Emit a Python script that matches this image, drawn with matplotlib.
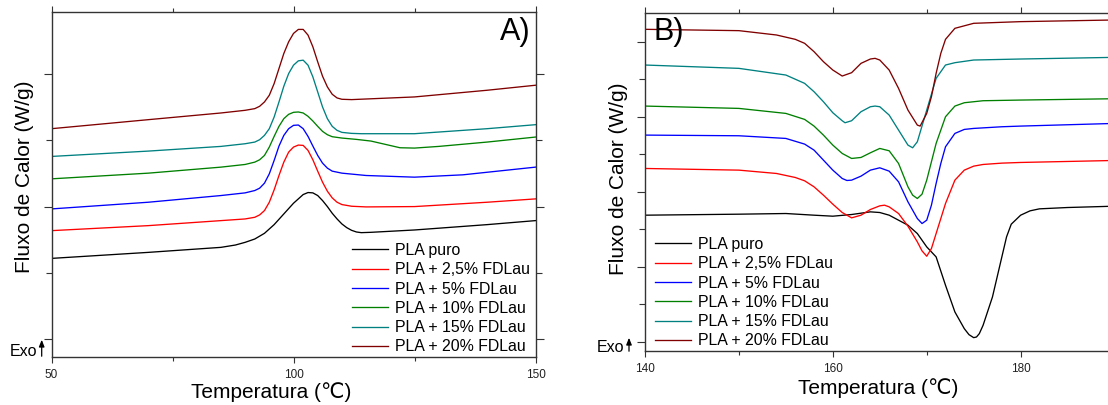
import matplotlib
matplotlib.use("Agg")
import matplotlib.pyplot as plt
from matplotlib.ticker import FixedLocator, NullFormatter

plt.rcParams['font.family'] = ['Liberation Sans', 'DejaVu Sans']

labels = ["PLA puro", "PLA + 2,5% FDLau", "PLA + 5% FDLau",
          "PLA + 10% FDLau", "PLA + 15% FDLau", "PLA + 20% FDLau"]
colors = ["#000000", "#ff0000", "#0000ff", "#008000", "#008080", "#800000"]

# ---------------- Panel A (crystallization region, 50-150 C) ----------------
tA_black = [50, 70, 85, 88, 90, 92, 94, 96, 98, 100, 101, 102, 103, 104, 105, 106, 107,
            108, 109, 110, 111, 112, 113, 114, 116, 125, 140, 150]
yA_black = [2.95, 3.13, 3.28, 3.35, 3.43, 3.53, 3.70, 3.96, 4.28, 4.60, 4.73, 4.86, 4.92,
            4.91, 4.83, 4.68, 4.50, 4.30, 4.13, 3.98, 3.87, 3.79, 3.74, 3.72, 3.73, 3.80,
            3.96, 4.08]

tA_red = [50, 70, 85, 90, 92, 93, 94, 95, 96, 97, 98, 99, 100, 101, 102, 103, 104, 105,
          106, 107, 108, 109, 110, 112, 115, 125, 140, 150]
yA_red = [3.78, 3.93, 4.08, 4.13, 4.18, 4.25, 4.38, 4.63, 5.00, 5.43, 5.83, 6.13, 6.28,
          6.34, 6.33, 6.18, 5.90, 5.56, 5.23, 4.96, 4.76, 4.63, 4.56, 4.51, 4.49, 4.50,
          4.63, 4.73]

tA_blue = [50, 70, 85, 90, 92, 93, 94, 95, 96, 97, 98, 99, 100, 101, 102, 103, 104, 105,
           106, 107, 108, 110, 115, 125, 135, 150]
yA_blue = [4.43, 4.63, 4.83, 4.91, 4.98, 5.05, 5.20, 5.48, 5.88, 6.31, 6.63, 6.83, 6.93,
           6.94, 6.83, 6.60, 6.31, 6.03, 5.80, 5.65, 5.56, 5.50, 5.43, 5.38, 5.45, 5.68]

tA_green = [50, 70, 85, 90, 92, 93, 94, 95, 96, 97, 98, 99, 100, 101, 102, 103, 104, 105,
            106, 107, 108, 110, 113, 116, 119, 122, 125, 130, 140, 150]
yA_green = [5.33, 5.50, 5.68, 5.76, 5.83, 5.90, 6.03, 6.28, 6.60, 6.90, 7.13, 7.26, 7.32,
            7.33, 7.30, 7.20, 7.06, 6.90, 6.75, 6.65, 6.59, 6.55, 6.51, 6.46, 6.36, 6.26,
            6.25, 6.30, 6.43, 6.58]

tA_teal = [50, 70, 85, 90, 92, 93, 94, 95, 96, 97, 98, 99, 100, 101, 102, 103, 104, 105,
           106, 107, 108, 109, 110, 112, 114, 125, 140, 150]
yA_teal = [6.00, 6.16, 6.30, 6.38, 6.43, 6.50, 6.63, 6.83, 7.18, 7.63, 8.10, 8.48, 8.73,
           8.86, 8.88, 8.73, 8.38, 7.93, 7.48, 7.13, 6.90, 6.78, 6.72, 6.69, 6.68, 6.68,
           6.83, 6.95]

tA_dred = [50, 70, 85, 90, 92, 93, 94, 95, 96, 97, 98, 99, 100, 101, 102, 103, 104, 105,
           106, 107, 108, 109, 110, 112, 125, 140, 150]
yA_dred = [6.83, 7.10, 7.30, 7.38, 7.43, 7.50, 7.63, 7.83, 8.18, 8.63, 9.08, 9.43, 9.68,
           9.80, 9.80, 9.63, 9.28, 8.83, 8.40, 8.08, 7.86, 7.75, 7.71, 7.70, 7.78, 7.98,
           8.13]

# ---------------- Panel B (melting region, 140-195 C) ----------------
tB_black = [140, 150, 155, 158, 160, 162, 164, 165, 166, 167, 168, 169, 170, 171, 172,
            173, 174, 174.5, 175, 175.3, 175.6, 176, 177, 177.5, 178, 178.5, 179, 180, 181,
            182, 185, 190, 195]
yB_black = [4.07, 4.10, 4.12, 4.07, 4.04, 4.09, 4.17, 4.15, 4.07, 3.92, 3.77, 3.52, 3.12,
            2.82, 1.97, 1.17, 0.67, 0.49, 0.40, 0.42, 0.52, 0.77, 1.62, 2.22, 2.82, 3.42,
            3.80, 4.07, 4.20, 4.26, 4.30, 4.34, 4.37]

tB_red = [140, 150, 154, 156, 157, 158, 159, 160, 161, 162, 163, 164, 165, 165.5, 166, 167,
          168, 169, 169.5, 170, 170.5, 171, 172, 173, 174, 175, 176, 178, 180, 190, 195]
yB_red = [5.47, 5.42, 5.32, 5.20, 5.10, 4.92, 4.67, 4.40, 4.15, 3.99, 4.07, 4.24, 4.35,
          4.37, 4.32, 4.12, 3.74, 3.27, 3.00, 2.84, 3.07, 3.52, 4.42, 5.12, 5.42, 5.54,
          5.59, 5.63, 5.65, 5.71, 5.73]

tB_blue = [140, 150, 155, 157, 158, 159, 160, 161, 161.5, 162, 163, 164, 165, 166, 167,
           168, 169, 169.5, 170, 170.5, 171, 171.5, 172, 173, 174, 175, 178, 180, 190, 195]
yB_blue = [6.47, 6.45, 6.37, 6.20, 6.02, 5.72, 5.42, 5.17, 5.11, 5.12, 5.24, 5.42, 5.49,
           5.39, 5.07, 4.47, 3.97, 3.82, 3.92, 4.37, 5.02, 5.62, 6.12, 6.52, 6.64, 6.67,
           6.72, 6.74, 6.82, 6.85]

tB_green = [140, 150, 155, 157, 158, 159, 160, 161, 162, 163, 164, 165, 166, 167, 168,
            168.5, 169, 169.5, 170, 171, 172, 173, 174, 176, 180, 190, 195]
yB_green = [7.34, 7.27, 7.12, 6.94, 6.74, 6.47, 6.17, 5.92, 5.77, 5.80, 5.94, 6.07, 6.00,
            5.62, 4.92, 4.67, 4.57, 4.70, 5.12, 6.22, 7.02, 7.34, 7.44, 7.50, 7.52, 7.56,
            7.58]

tB_teal = [140, 150, 155, 157, 158, 159, 160, 161, 161.3, 162, 163, 164, 164.5, 165, 166,
           167, 168, 168.5, 169, 170, 171, 172, 173, 175, 180, 190, 195]
yB_teal = [8.57, 8.47, 8.27, 8.02, 7.77, 7.47, 7.14, 6.90, 6.84, 6.90, 7.17, 7.32, 7.34,
           7.32, 7.07, 6.62, 6.17, 6.09, 6.27, 7.22, 8.17, 8.57, 8.64, 8.72, 8.75, 8.80,
           8.82]

tB_dred = [140, 150, 154, 156, 157, 158, 159, 160, 161, 162, 163, 164, 164.5, 165, 166,
           167, 168, 169, 169.3, 170, 170.5, 171, 171.5, 172, 173, 175, 180, 190, 195]
yB_dred = [9.64, 9.60, 9.47, 9.34, 9.22, 8.97, 8.67, 8.42, 8.24, 8.34, 8.62, 8.75, 8.77,
           8.72, 8.42, 7.87, 7.22, 6.77, 6.74, 7.12, 7.62, 8.32, 8.92, 9.34, 9.67, 9.82,
           9.87, 9.92, 9.94]

seriesA = [(tA_black, yA_black), (tA_red, yA_red), (tA_blue, yA_blue),
           (tA_green, yA_green), (tA_teal, yA_teal), (tA_dred, yA_dred)]
seriesB = [(tB_black, yB_black), (tB_red, yB_red), (tB_blue, yB_blue),
           (tB_green, yB_green), (tB_teal, yB_teal), (tB_dred, yB_dred)]

W, H = 1108, 405
fig = plt.figure(figsize=(W / 100, H / 100), dpi=100)

def px_axes(x0, y0, x1, y1):
    return fig.add_axes([x0 / W, 1 - y1 / H, (x1 - x0) / W, (y1 - y0) / H])

axA = px_axes(51.5, 11.7, 535.5, 357)
axB = px_axes(645, 13.3, 1161.5, 351)

for (t, y), c, lab in zip(seriesA, colors, labels):
    axA.plot(t, y, color=c, lw=0.95, label=lab, solid_joinstyle='round')
for (t, y), c, lab in zip(seriesB, colors, labels):
    axB.plot(t, y, color=c, lw=0.95, label=lab, solid_joinstyle='round')

axA.set_xlim(50, 150)
axA.set_ylim(0, 10.33)
axB.set_xlim(140, 195)
axB.set_ylim(0, 10.12)

spine_c = "#333333"
for ax in (axA, axB):
    for s in ax.spines.values():
        s.set_color(spine_c)
        s.set_linewidth(1.0)
    ax.tick_params(axis='both', which='both', direction='out', colors=spine_c,
                   width=0.8, labelsize=8.5, labelcolor='#222222')
    ax.yaxis.set_major_formatter(NullFormatter())
    ax.yaxis.set_minor_formatter(NullFormatter())

axA.xaxis.set_major_locator(FixedLocator([50, 100, 150]))
axA.xaxis.set_minor_locator(FixedLocator([75, 125]))
axA.yaxis.set_major_locator(FixedLocator([0.53, 4.50, 8.47]))
axA.yaxis.set_minor_locator(FixedLocator([2.515, 6.485]))
axA.tick_params(axis='x', which='major', length=4, top=True, pad=5)
axA.tick_params(axis='x', which='minor', length=3, top=True)
axA.tick_params(axis='y', which='major', length=6, right=True)
axA.tick_params(axis='y', which='minor', length=4, right=True)

axB.xaxis.set_major_locator(FixedLocator([140, 160, 180]))
axB.xaxis.set_minor_locator(FixedLocator([150, 170, 190]))
axB.yaxis.set_major_locator(FixedLocator([0.27, 2.52, 4.77, 7.02, 9.27]))
axB.yaxis.set_minor_locator(FixedLocator([1.395, 3.645, 5.895, 8.145]))
axB.tick_params(axis='x', which='major', length=4, top=True, pad=5)
axB.tick_params(axis='x', which='minor', length=3, top=True)
axB.tick_params(axis='y', which='major', length=6)
axB.tick_params(axis='y', which='minor', length=4)
axB.spines['right'].set_visible(False)

def ftxt(x, y, s, **kw):
    fig.text(x / W, 1 - y / H, s, **kw)

# axis titles
ftxt(271, 392, "Temperatura (\u2103)", ha='center', va='center', fontsize=15)
ftxt(878, 388, "Temperatura (\u2103)", ha='center', va='center', fontsize=15)
ftxt(25, 177, "Fluxo de Calor (W/g)", ha='center', va='center', fontsize=15, rotation=90)
ftxt(618, 179, "Fluxo de Calor (W/g)", ha='center', va='center', fontsize=15, rotation=90)

# panel letters
ftxt(531, 32, "A)", ha='right', va='center', fontsize=22)
ftxt(653, 32, "B)", ha='left', va='center', fontsize=22)

# Exo markers
for (xt, yt, xa, ya0, ya1) in [(37, 351, 41.7, 359, 337), (624, 347, 629, 354, 335)]:
    ftxt(xt, yt, "Exo", ha='right', va='center', fontsize=11.5)
    fig.add_artist(matplotlib.patches.FancyArrowPatch(
        (xa / W, 1 - ya0 / H), (xa / W, 1 - ya1 / H), transform=fig.transFigure,
        arrowstyle='-|>,head_length=4,head_width=1.6', color='black', lw=0.9,
        mutation_scale=1))

# legends
legkw = dict(frameon=False, fontsize=11.4, handlelength=2.3, handletextpad=0.4,
             labelspacing=0.27, borderpad=0, borderaxespad=0, loc='upper left')
axA.legend(bbox_to_anchor=(352 / W, 1 - 243 / H), bbox_transform=fig.transFigure, **legkw)
axB.legend(bbox_to_anchor=(655 / W, 1 - 237 / H), bbox_transform=fig.transFigure, **legkw)

fig.savefig("out.png", dpi=100)
